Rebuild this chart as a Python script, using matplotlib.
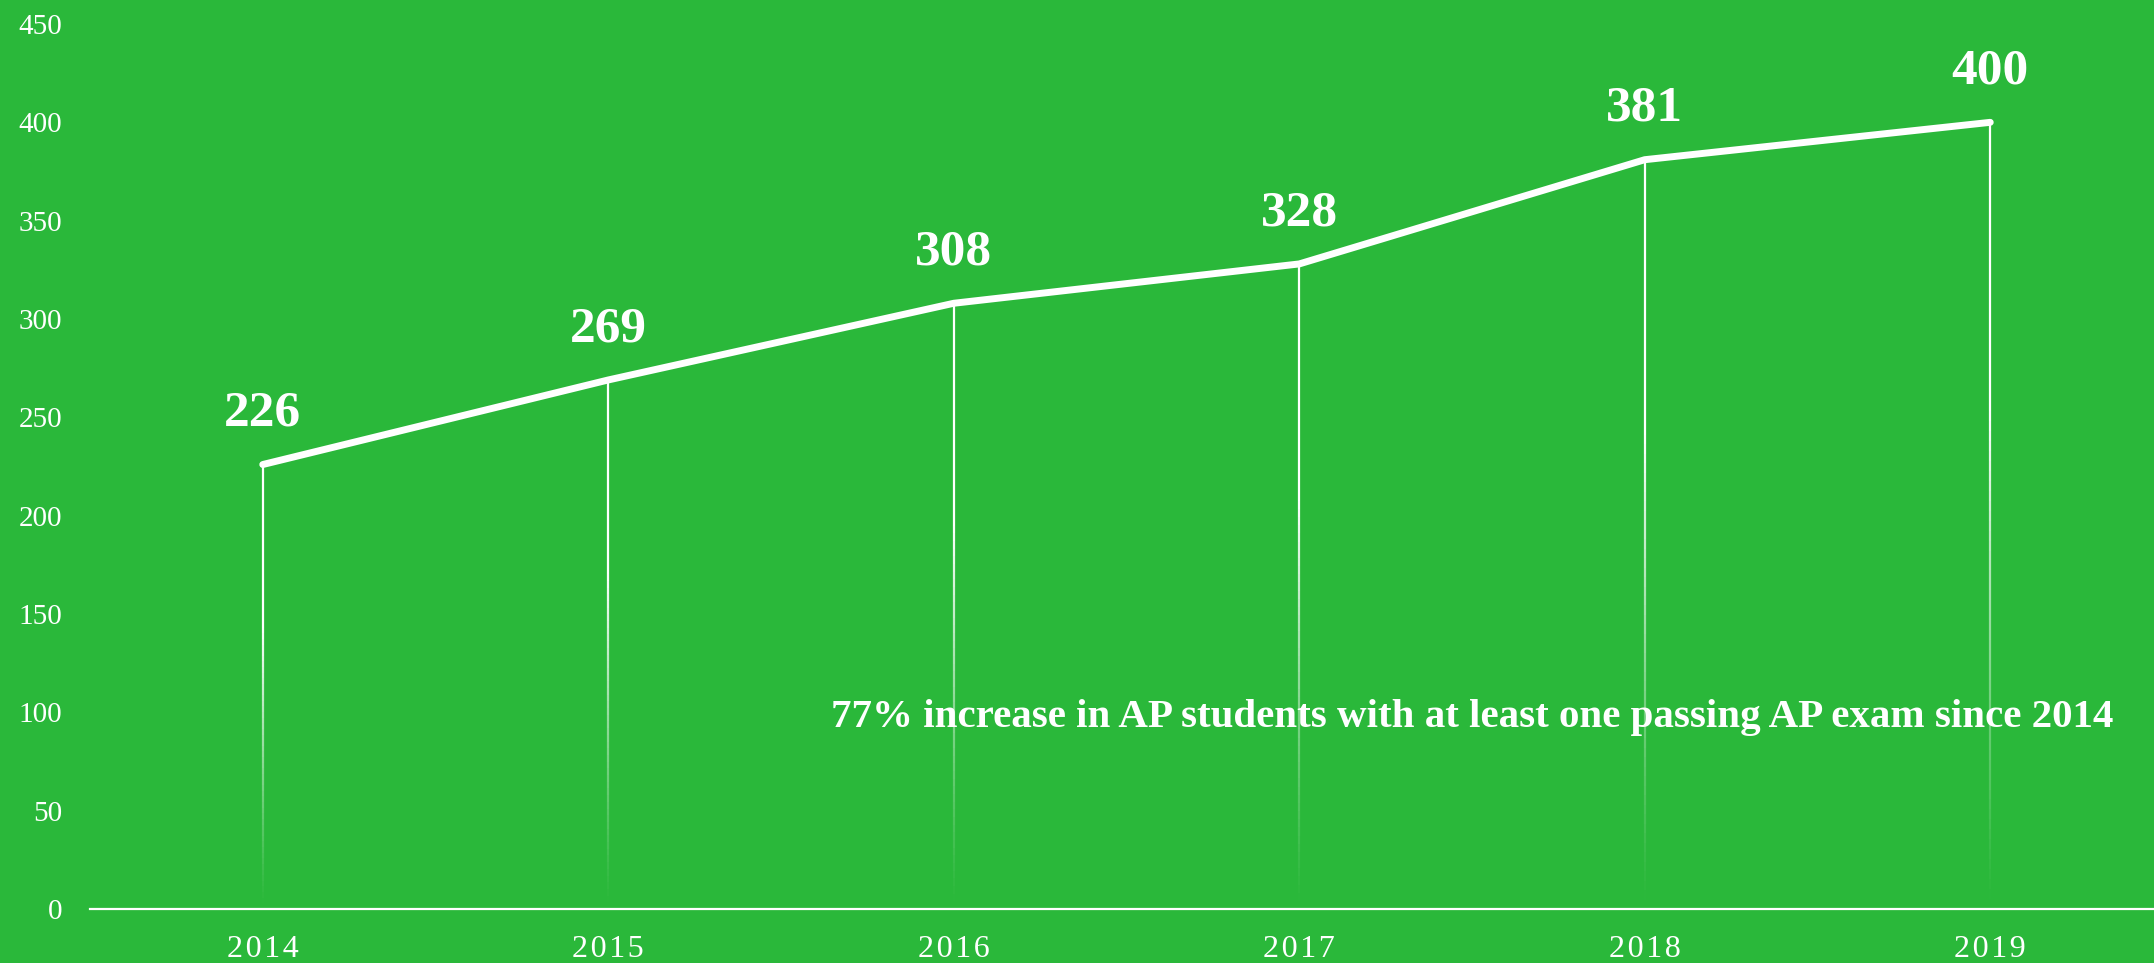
import matplotlib.pyplot as plt
import numpy as np
from matplotlib.collections import LineCollection

years = ["2014", "2015", "2016", "2017", "2018", "2019"]
students = [226, 269, 308, 328, 381, 400]
y_ticks = [0, 50, 100, 150, 200, 250, 300, 350, 400, 450]
note = "77% increase in AP students with at least one passing AP exam since 2014"

bg = "#2AB83A"
plt.rcParams["font.family"] = ["Liberation Serif", "DejaVu Serif"]

fig = plt.figure(figsize=(21.54, 9.63), dpi=100, facecolor=bg)
ax = fig.add_axes([90 / 2154, 54 / 963, 2073 / 2154, 885 / 963])
ax.set_facecolor(bg)

x = np.arange(len(years))

# fading drop lines from each point down to zero
for xi, v in zip(x, students):
    ys = np.linspace(0, v, 80)
    segs = [[(xi, ys[i]), (xi, ys[i + 1])] for i in range(len(ys) - 1)]
    t = ys[:-1] / v
    alphas = np.clip(t * 1.6, 0, 1) ** 1.2
    cols = [(1, 1, 1, a) for a in alphas]
    ax.add_collection(LineCollection(segs, colors=cols, linewidths=1.6, zorder=2))

ax.plot(x, students, color="white", lw=5, solid_capstyle="round",
        solid_joinstyle="round", zorder=3)

for xi, v in zip(x, students):
    ax.annotate(str(v), (xi, v), xytext=(0, 20), textcoords="offset points",
                ha="center", va="bottom", fontsize=37, fontweight="bold",
                color="white")

ax.text(831 / 2154, 1 - 717 / 963, note, transform=fig.transFigure, ha="left",
        va="center", fontsize=29.5, fontweight="bold", color="white")

ax.set_xlim(-0.5, 5.5)
ax.set_ylim(0, 450)
ax.set_xticks(x)
ax.set_xticklabels(["\u200a".join(y) for y in years])
ax.set_yticks(y_ticks)
ax.tick_params(axis="both", length=0, colors="white", labelsize=21)
ax.tick_params(axis="x", pad=19, labelsize=23)
ax.tick_params(axis="y", pad=20)
for s in ["top", "left", "right"]:
    ax.spines[s].set_visible(False)
ax.spines["bottom"].set_color("white")
ax.spines["bottom"].set_linewidth(1.6)

fig.savefig("out.png", dpi=100, facecolor=bg)
